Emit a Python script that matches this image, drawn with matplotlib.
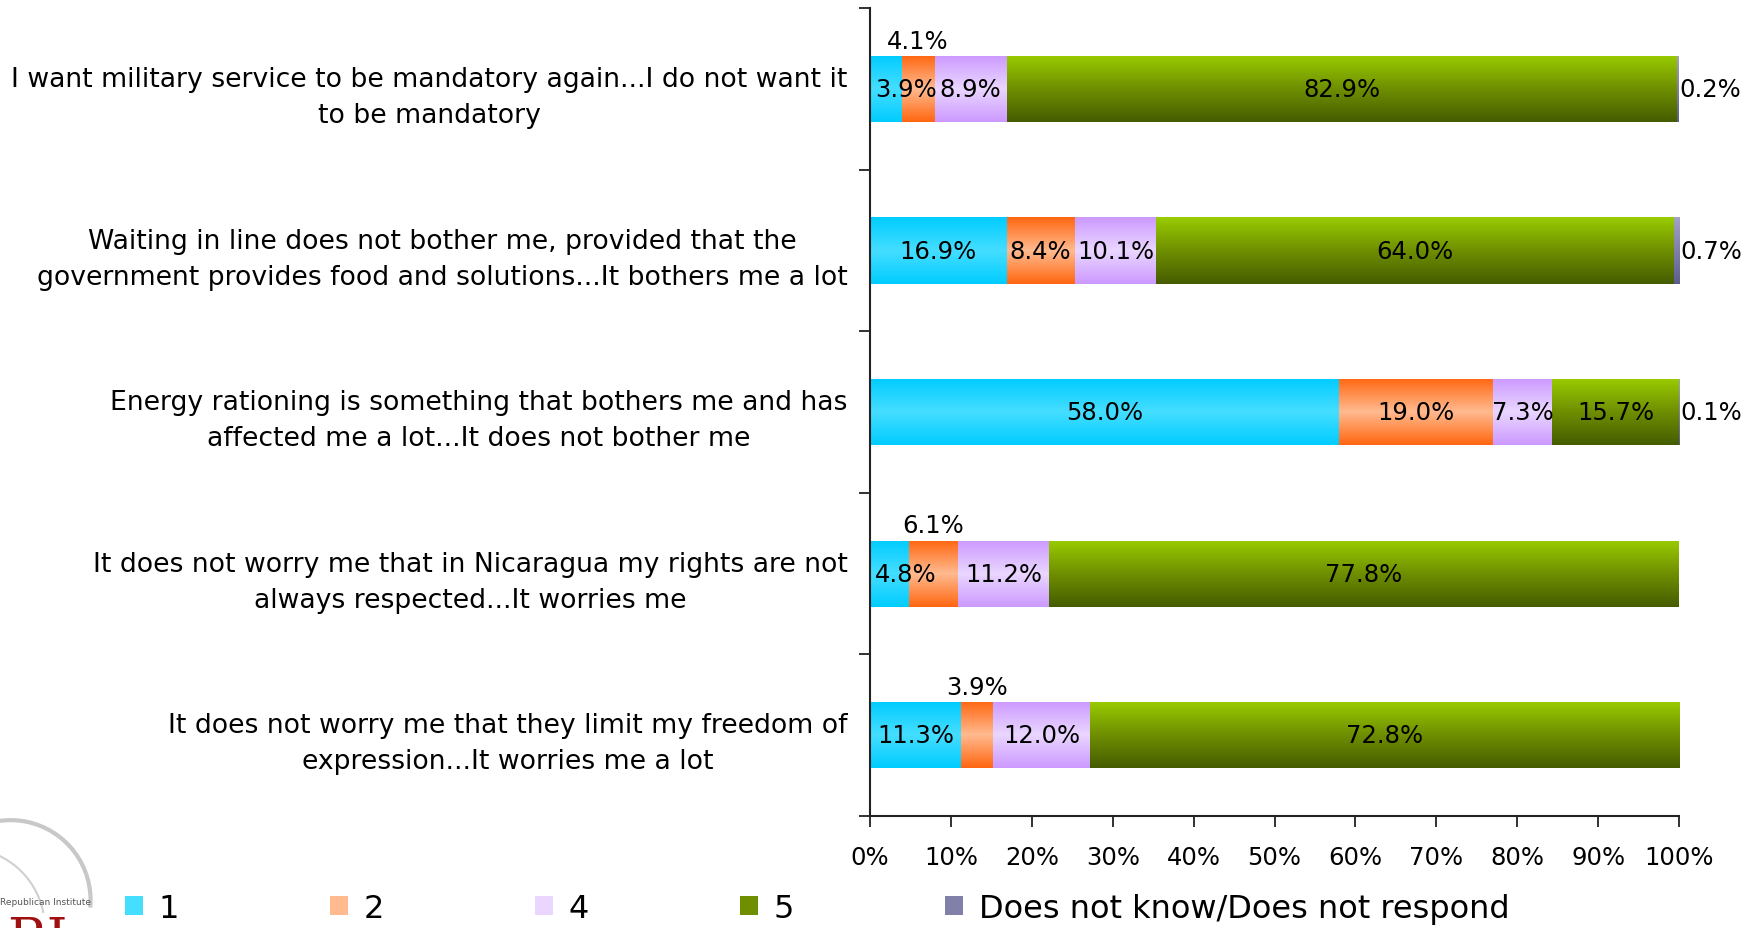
import numpy as np
import matplotlib.pyplot as plt
from matplotlib.colors import LinearSegmentedColormap
from matplotlib.patches import Arc

categories = [
    'I want military service to be mandatory again...I do not want it\nto be mandatory',
    'Waiting in line does not bother me, provided that the\ngovernment provides food and solutions...It bothers me a lot',
    'Energy rationing is something that bothers me and has\naffected me a lot...It does not bother me',
    'It does not worry me that in Nicaragua my rights are not\nalways respected...It worries me',
    'It does not worry me that they limit my freedom of\nexpression...It worries me a lot',
]
series_names = ['1', '2', '4', '5', 'Does not know/Does not respond']
v1 = [3.9, 16.9, 58.0, 4.8, 11.3]
v2 = [4.1, 8.4, 19.0, 6.1, 3.9]
v4 = [8.9, 10.1, 7.3, 11.2, 12.0]
v5 = [82.9, 64.0, 15.7, 77.8, 72.8]
vdk = [0.2, 0.7, 0.1, 0.0, 0.0]
xticks = list(range(0, 101, 10))

# gradient stops (top -> bottom) for each series
gradients = [
    ['#00CCFF', '#45DEFF', '#00CCFF'],
    ['#FF6610', '#FFBA90', '#FF6610'],
    ['#CC99FF', '#EAD6FF', '#CC99FF'],
    ['#99CC00', '#6F8F00', '#465C00'],
    ['#A3A3C8', '#8080A8', '#5E5E8C'],
]
# small segments whose label sits above the bar
above = {(0, 1), (3, 1), (4, 1)}
fs = 17.5

fig, ax = plt.subplots(figsize=(17.6, 9.29), dpi=100)
fig.subplots_adjust(left=0.4943, right=0.954, bottom=0.1206, top=0.990)

y = np.arange(len(categories))
left = np.zeros(len(categories))
grad = np.linspace(0, 1, 256).reshape(-1, 1)
for s, (vals, name, cols) in enumerate(zip([v1, v2, v4, v5, vdk], series_names, gradients)):
    bars = ax.barh(y, vals, left=left, height=0.41, color=cols[1], label=name,
                   edgecolor='none', zorder=1)
    cmap = LinearSegmentedColormap.from_list('g%d' % s, cols)
    for i, b in enumerate(bars):
        w = b.get_width()
        if w <= 0:
            continue
        x0, y0, h = b.get_x(), b.get_y(), b.get_height()
        im = ax.imshow(grad, cmap=cmap, aspect='auto', origin='upper',
                       extent=(x0, x0 + w, y0 + h, y0), zorder=2)
        im.set_clip_path(b)
        txt = '%.1f%%' % vals[i]
        if s == 4:
            ax.text(x0 + w + 0.1, y[i], txt, ha='left', va='center', fontsize=fs, zorder=3)
        elif (i, s) in above:
            ax.text(x0 + w / 2, y[i] - 0.3, txt, ha='center', va='center', fontsize=fs, zorder=3)
        elif w < 6:
            ax.text(x0 + 0.6, y[i], txt, ha='left', va='center', fontsize=fs, zorder=3)
        else:
            ax.text(x0 + w / 2, y[i], txt, ha='center', va='center', fontsize=fs, zorder=3)
    left += np.array(vals)

ax.set_xlim(0, 100)
ax.set_ylim(len(categories) - 0.5, -0.5)
ax.set_xticks(xticks)
ax.set_xticklabels(['%d%%' % t for t in xticks], fontsize=fs)
ax.set_yticks(y)
ax.set_yticklabels(categories, fontsize=19.2, linespacing=1.5, multialignment='center')
ax.set_yticks(np.arange(-0.5, len(categories)), minor=True)
ax.tick_params(axis='y', which='major', length=0, pad=16)
ax.tick_params(axis='y', which='minor', length=8, width=1.3, color='#222222')
ax.tick_params(axis='x', length=8, width=1.3, color='#222222', pad=13)
for side in ['top', 'right']:
    ax.spines[side].set_visible(False)
for side in ['left', 'bottom']:
    ax.spines[side].set_linewidth(1.5)
    ax.spines[side].set_color('#222222')

fig.legend(loc='center left', bbox_to_anchor=(0.071, 0.0215), ncol=5, frameon=False,
           fontsize=23, handlelength=0.55, handleheight=0.55, handletextpad=0.5,
           columnspacing=4.73, borderpad=0, borderaxespad=0)

# logo fragment in the bottom-left corner
fig.add_artist(Arc((0.006, 0.03), 2 * 80 / 1760, 2 * 80 / 929, theta1=-10, theta2=150,
                   transform=fig.transFigure, color='#c8c8c8', lw=3))
fig.add_artist(Arc((-0.02, 0.0), 2 * 80 / 1760, 2 * 80 / 929, theta1=20, theta2=90,
                   transform=fig.transFigure, color='#d0d0d0', lw=1.5))
fig.text(0.0, 1 - 903 / 929, 'Republican Institute', fontsize=6.5, color='#555555',
         va='center', ha='left')
fig.text(0.004, -0.04, 'RI', fontsize=38, color='#a01010', family='serif',
         va='bottom', ha='left')

fig.savefig('out.png', dpi=100)
